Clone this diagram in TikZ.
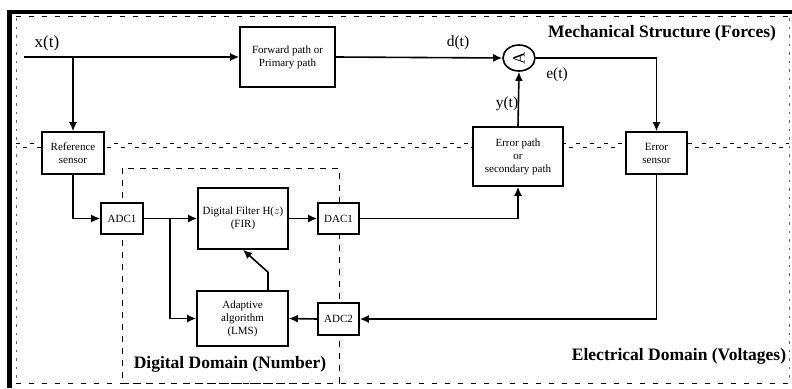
\documentclass[tikz,border=0pt]{standalone}
\usepackage{fontspec}
\setmainfont{Liberation Serif}
\usetikzlibrary{arrows.meta,calc,shapes.geometric}

\tikzset{
  blk/.style={draw, line width=1.6pt, fill=white, align=center, inner sep=1pt,
              font=\fontsize{11}{13}\selectfont},
  arr/.style={line width=1.6pt, -{Latex[length=9pt,width=8pt]}},
  sig/.style={font=\fontsize{15.5}{17}\selectfont},
  domaincap/.style={font=\bfseries\fontsize{17.5}{20}\selectfont},
  frame/.style={line width=4pt},
  dashline/.style={line width=0.8pt, dash pattern=on 5pt off 8pt},
  dotline/.style={line width=0.7pt, black!60, dash pattern=on 2.5pt off 6pt}
}

\begin{document}
\begin{tikzpicture}[x=1pt, y=-1pt]
  \useasboundingbox (0,0) rectangle (792,388);

  % outer frame: heavy rules on top and left
  \draw[frame] (7,11.5) -- (792,11.5);
  \draw[line width=5pt] (9.5,9.5) -- (9.5,388);

  % dashed inner border
  \draw[dashline] (16,16) -- (792,16);
  \draw[dashline] (16,383) -- (789,383);
  \draw[dotline] (16,18) -- (16,381);
  \draw[dotline] (789,18) -- (789,381);

  % boundary between mechanical and electrical domains
  \draw[line width=0.6pt, dash pattern=on 4pt off 10pt] (16,143) -- (789,143);
  \draw[line width=0.6pt, dash pattern=on 4pt off 10pt, dash phase=7pt] (16,147) -- (789,147);

  % digital domain region
  \draw[line width=0.8pt, dash pattern=on 6pt off 6pt] (122,168) rectangle (339,383);

  % blocks
  \node[blk, minimum width=95pt, minimum height=60pt] (fwd) at (287.5,57) {Forward path or\\Primary path};
  \node[draw, line width=1.6pt, ellipse, minimum width=32pt, minimum height=26pt, inner sep=0pt, fill=white] (sum) at (519,58) {};
  \node[rotate=90, font=\fontsize{17}{17}\selectfont] (sumsym) at (519,58.5) {A};
  \node[blk, minimum width=62pt, minimum height=42pt] (ref) at (73,153) {Reference\\sensor};
  \node[blk, minimum width=90pt, minimum height=59pt] (errp) at (518,156.5) {Error path\\or\\secondary path};
  \node[blk, minimum width=61pt, minimum height=42pt] (errs) at (656.5,153) {Error\\sensor};
  \node[blk, minimum width=42pt, minimum height=31pt] (adc1) at (122,218.5) {ADC1};
  \node[blk, minimum width=90pt, minimum height=61pt] (filt) at (243,218.5) {Digital Filter H($z$)\\(FIR)};
  \node[blk, minimum width=41pt, minimum height=31pt] (dac1) at (338.5,218.5) {DAC1};
  \node[blk, minimum width=91pt, minimum height=55pt] (adapt) at (242.5,318.5) {Adaptive\\algorithm\\(LMS)};
  \node[blk, minimum width=41pt, minimum height=32pt] (adc2) at (338.5,319) {ADC2};

  % connection points
  \coordinate (xin) at (24,57);
  \coordinate (xbr) at (73,57);
  \coordinate (abr) at (170,218.5);

  % signal paths
  \draw[arr] (xin) -- (fwd.west);
  \draw[arr] (xbr) -- (ref.north);
  \draw[arr] (fwd.east) -- (sum.west);
  \draw[arr] (errp.north) -- (sum.south);
  \draw[arr] (sum.east) -| (errs.north);
  \draw[arr] (ref.south) |- (adc1.west);
  \draw[arr] (adc1.east) -- (filt.west);
  \draw[arr] (abr) |- (adapt.west);
  \draw[arr] (filt.east) -- (dac1.west);
  \draw[arr] (dac1.east) -| (errp.south);
  \draw[arr] (errs.south) |- (adc2.east);
  \draw[arr] (adc2.west) -- (adapt.east);
  \draw[arr] ($(adapt.north)+(25.5,0)$) -- ++(0,-18) -- (filt.south);

  % signal labels
  \node[font=\fontsize{17}{18}\selectfont] (lx) at (47,43) {x(t)};
  \node[sig] (ld) at (458,43) {d(t)};
  \node[sig] (le) at (557,75) {e(t)};
  \node[sig] (ly) at (507,104) {y(t)};

  % domain captions
  \node[domaincap] (mech) at (662,33) {Mechanical Structure (Forces)};
  \node[domaincap] (dig) at (230,364) {Digital Domain (Number)};
  \node[domaincap] (elec) at (679,356) {Electrical Domain (Voltages)};
\end{tikzpicture}
\end{document}
